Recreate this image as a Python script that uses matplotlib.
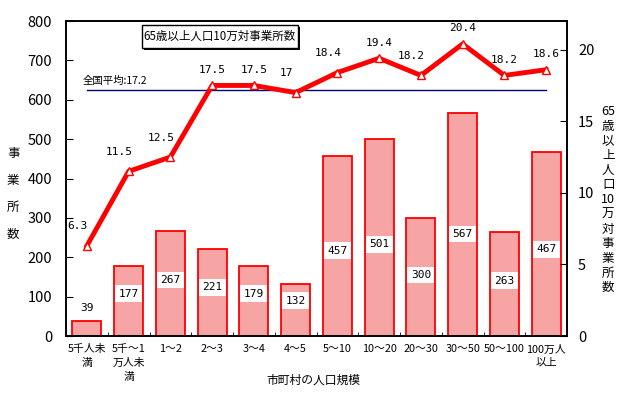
import matplotlib
matplotlib.use('Agg')
import matplotlib.pyplot as plt
import numpy as np

plt.rcParams['font.family'] = ['Noto Sans CJK JP', 'DejaVu Sans']

#categories and values
categories = ['5千人未\n満', '5千～1\n万人未\n満', '1～2', '2～3', '3～4', '4～5',
              '5～10', '10～20', '20～30', '30～50', '50～100', '100万人\n以上']
offices = [39, 177, 267, 221, 179, 132, 457, 501, 300, 567, 263, 467]
per_100k = [6.3, 11.5, 12.5, 17.5, 17.5, 17, 18.4, 19.4, 18.2, 20.4, 18.2, 18.6]
national_avg = 17.2

num_font = ['DejaVu Sans Mono']
x = np.arange(len(categories))

fig = plt.figure(figsize=(6.25, 3.93), dpi=100)
ax = fig.add_axes([0.1056, 0.145, 0.8016, 0.8015])
ax2 = ax.twinx()

#bars on the left axis
ax.bar(x, offices, width=0.7, color='#f6a4a4', edgecolor='red', linewidth=1.3, zorder=2)
for i, v in enumerate(offices):
    if v < 100:
        ax.text(i, v + 32, str(v), ha='center', va='center', fontsize=8, family=num_font, zorder=5)
    else:
        ax.text(i, 0.39 * v + 38, str(v), ha='center', va='center', fontsize=8, family=num_font,
                zorder=5, bbox=dict(facecolor='white', edgecolor='none', pad=2.5))

ax.set_xlim(-0.5, len(categories) - 0.5)
ax.set_ylim(0, 800)
ax.set_yticks(range(0, 801, 100))
ax.set_xticks(x)
ax.set_xticklabels(categories, fontsize=7.8, linespacing=1.45, va='top')
ax.set_xticks(np.arange(0.5, len(categories) - 0.5, 1), minor=True)
ax.tick_params(axis='x', which='major', length=0, pad=6)
ax.tick_params(axis='x', which='minor', direction='in', length=3)
ax.tick_params(axis='y', direction='in', length=5, labelsize=10.5, pad=10)

#line on the right axis
ax2.plot([0, len(categories) - 1], [national_avg, national_avg], color='#000080', lw=1, zorder=1)
ax2.text(-0.1, national_avg + 0.25, '全国平均:17.2', fontsize=7.5, va='bottom', ha='left')
ax2.plot(x, per_100k, color='red', lw=3.5, marker='^', markersize=6,
         markerfacecolor='white', markeredgecolor='red', markeredgewidth=1, zorder=4)
for i, v in enumerate(per_100k):
    #labels on steep climbs sit up and to the left of the point
    steep = i + 1 < len(per_100k) and per_100k[i + 1] - v > 0.9
    dx = -0.22 if steep else 0
    dy = 1.0 if steep else 0.75
    ax2.text(i + dx, v + dy, '%g' % v, ha='center', va='bottom', fontsize=8, family=num_font)
ax2.set_ylim(0, 22)
ax2.set_yticks([0, 5, 10, 15, 20])
ax2.tick_params(axis='y', direction='in', length=5, labelsize=10.5, pad=8)

for a in (ax, ax2):
    for s in a.spines.values():
        s.set_linewidth(1.2)

#title box with shadow
fig.add_artist(plt.Rectangle((0.2304, 0.873), 0.2496, 0.0585, transform=fig.transFigure,
                             facecolor='black', edgecolor='none', zorder=5))
fig.add_artist(plt.Rectangle((0.2272, 0.878), 0.2496, 0.0585, transform=fig.transFigure,
                             facecolor='white', edgecolor='black', linewidth=1, zorder=6))
fig.text(0.352, 0.907, '65歳以上人口10万対事業所数', fontsize=8.3, ha='center', va='center', zorder=7)

#axis labels written vertically
fig.text(0.021, 0.506, '事\n\n業\n\n所\n\n数', fontsize=9, ha='center', va='center', linespacing=1.05)
fig.text(0.973, 0.492, '65\n歳\n以\n上\n人\n口\n10\n万\n対\n事\n業\n所\n数', fontsize=9,
         ha='center', va='center', linespacing=1.17)
fig.text(0.502, 0.033, '市町村の人口規模', fontsize=8.5, ha='center', va='center')

fig.savefig('out.png', dpi=100)
